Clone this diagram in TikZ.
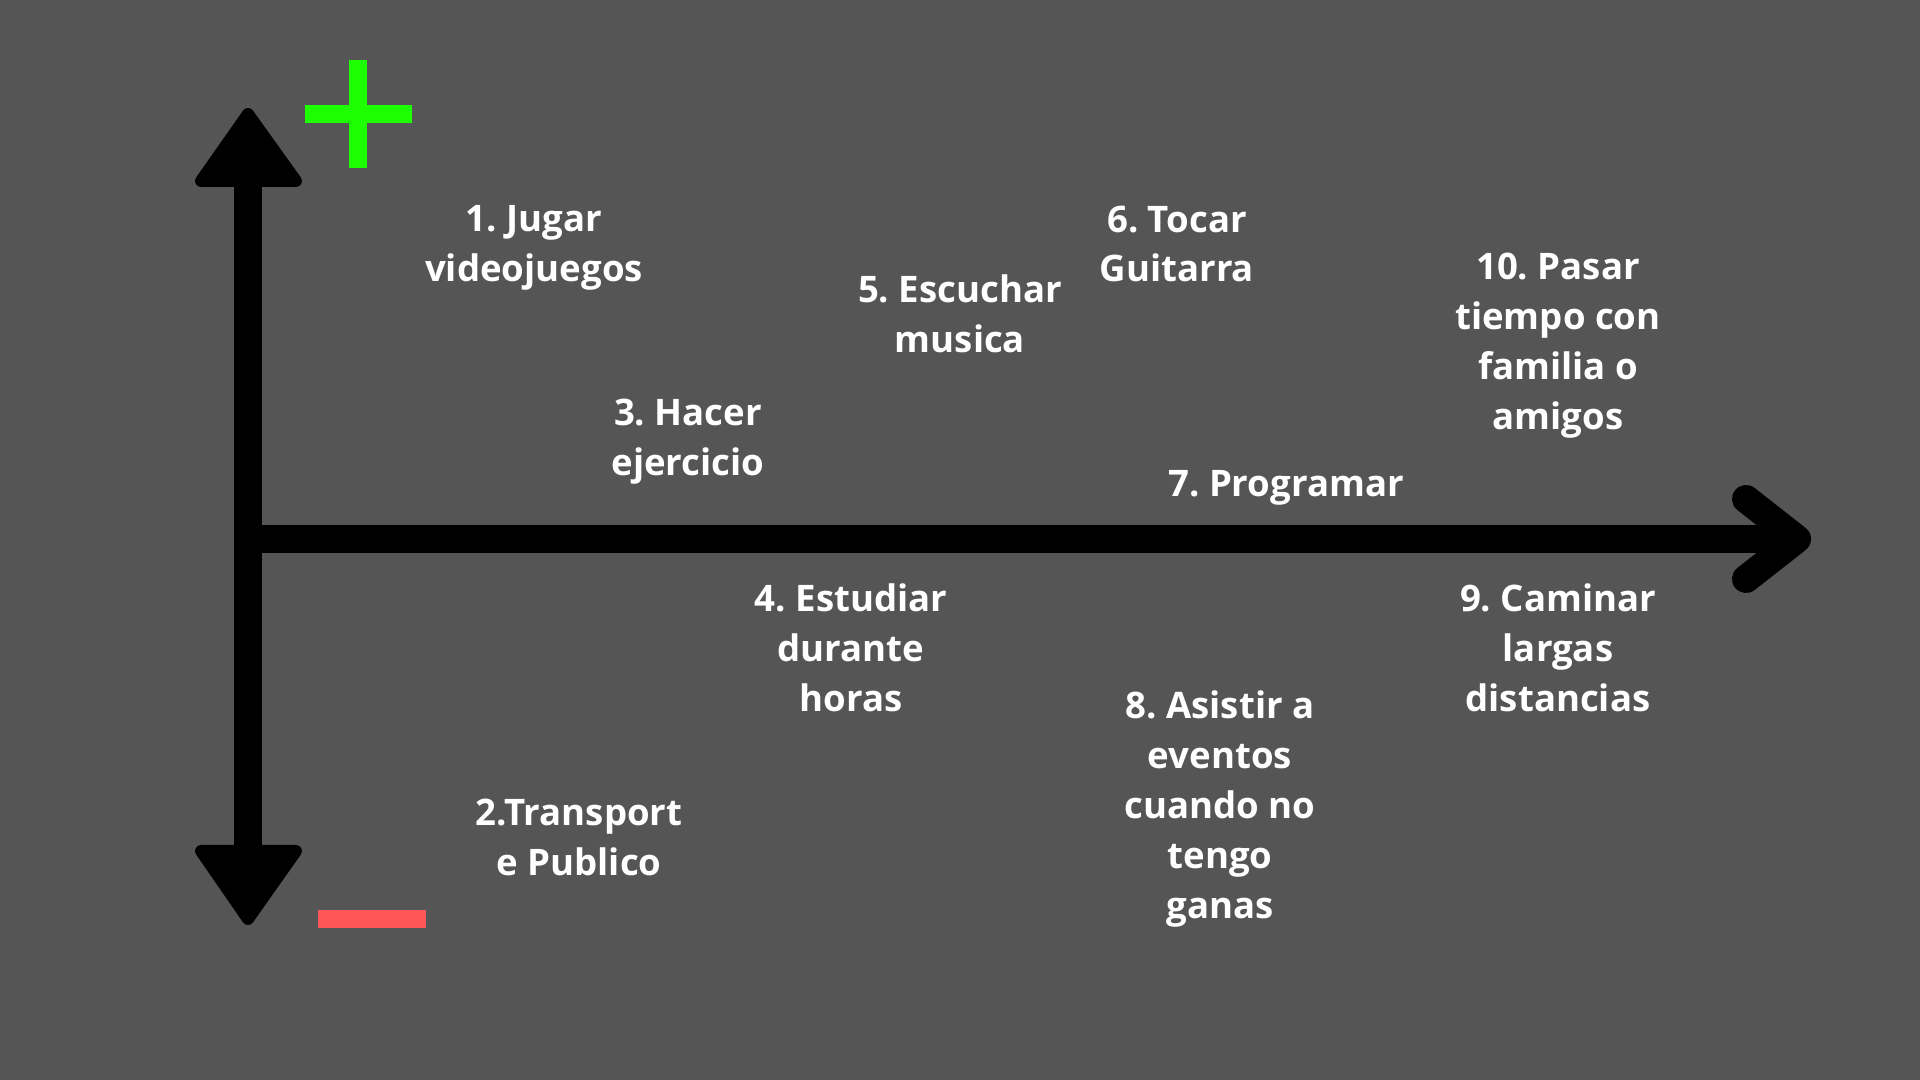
\documentclass[tikz,border=0pt]{standalone}
\usepackage{fontspec}
\setmainfont{Open Sans}
\definecolor{bggray}{RGB}{85,85,85}
\definecolor{plusgreen}{RGB}{30,255,0}
\definecolor{minusred}{RGB}{255,87,87}
\frenchspacing
\begin{document}
\begin{tikzpicture}[x=0.01cm,y=-0.01cm,
  item/.style={text=white,font=\fontsize{10.4}{14.2}\selectfont\bfseries,align=center,inner sep=0pt}]
\fill[bggray] (0,0) rectangle (1920,1080);
\useasboundingbox (0,0) rectangle (1920,1080);
% axes
\draw[line width=0.27cm] (248,150) -- (248,880);
\filldraw[line width=0.12cm,line join=round] (248,114) -- (296,181) -- (201,181) -- cycle;
\filldraw[line width=0.12cm,line join=round] (248,919) -- (296,851) -- (201,851) -- cycle;
\draw[line width=0.28cm] (248,539) -- (1797,539);
\draw[line width=0.28cm,line cap=round,line join=round] (1746,499) -- (1797,539) -- (1746,579);
% plus and minus
\fill[plusgreen] (349,60) rectangle (367,168);
\fill[plusgreen] (305,105) rectangle (412,123);
\fill[minusred] (318,910) rectangle (426,928);
% activities
\node[item] (jugar) at (534,248) {1. Jugar\\videojuegos};
\node[item] (transporte) at (579,837) {2.Transport\\e Publico};
\node[item] (ejercicio) at (688,442) {3. Hacer\\ejercicio};
\node[item] (estudiar) at (851,648) {4. Estudiar\\durante\\horas};
\node[item] (musica) at (960,314) {5. Escuchar\\musica};
\node[item] (guitarra) at (1177,244) {6. Tocar\\Guitarra};
\node[item] (programar) at (1286,488) {7. Programar};
\node[item] (eventos) at (1220,809) {8. Asistir a\\eventos\\cuando no\\tengo\\ganas};
\node[item] (caminar) at (1558,648) {9. Caminar\\largas\\distancias};
\node[item] (familia) at (1558,346) {10. Pasar\\tiempo con\\familia o\\amigos};
\end{tikzpicture}
\end{document}
